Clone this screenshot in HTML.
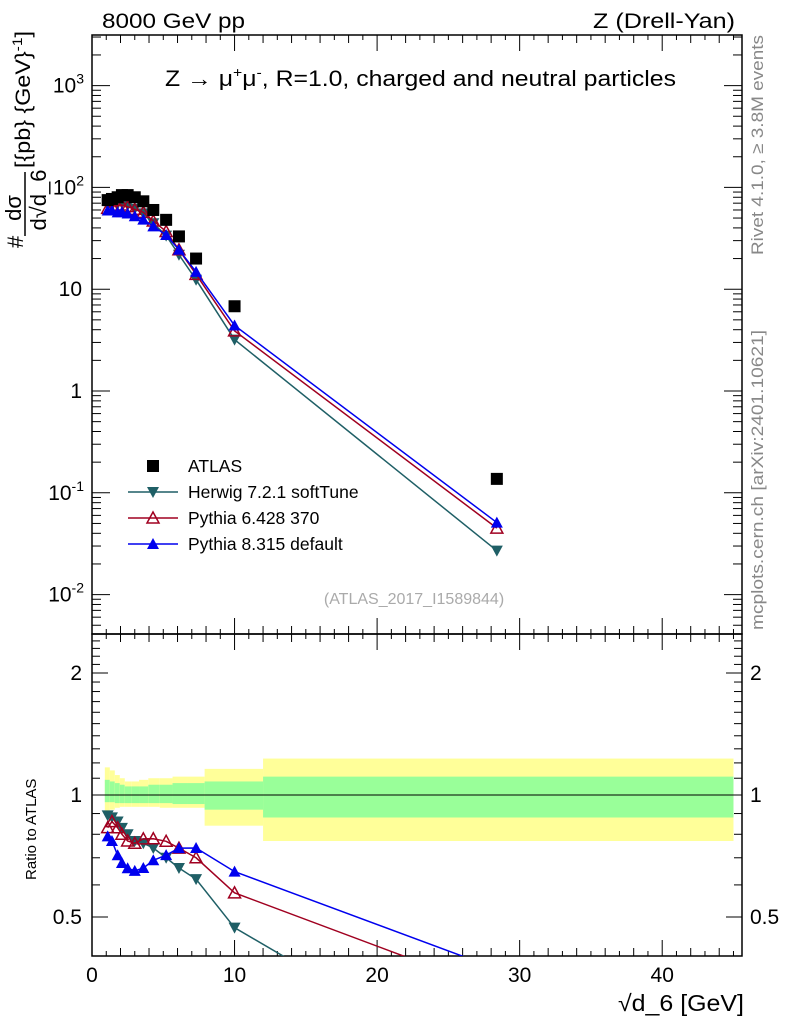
<!DOCTYPE html>
<html><head><meta charset="utf-8"><style>
html,body{margin:0;padding:0;background:#fff;overflow:hidden;width:786px;height:1024px}
svg{display:block;position:absolute;left:0;top:0}
svg text{font-family:"Liberation Sans",sans-serif}
</style></head><body>
<svg id="c" width="786" height="1024" viewBox="0 0 786 1024" overflow="hidden" xmlns="http://www.w3.org/2000/svg">
<rect width="786" height="1024" fill="#fff"/>
<g id="bands"></g>
<g id="axes"></g>
<g id="series"></g>
<text x="102" y="28" font-size="21" textLength="143" lengthAdjust="spacingAndGlyphs">8000 GeV pp</text>
<text x="593" y="28" font-size="21" textLength="142" lengthAdjust="spacingAndGlyphs">Z (Drell-Yan)</text>
<text x="165" y="86" font-size="22" textLength="511" lengthAdjust="spacingAndGlyphs">Z → μ<tspan font-size="14" dy="-9">+</tspan><tspan dy="9">μ</tspan><tspan font-size="14" dy="-9">-</tspan><tspan dy="9">, R=1.0, charged and neutral particles</tspan></text>
<text x="414" y="604" font-size="16" fill="#aaa" text-anchor="middle">(ATLAS_2017_I1589844)</text>
<text transform="translate(763,255) rotate(-90)" font-size="17" textLength="220" lengthAdjust="spacingAndGlyphs" fill="#888">Rivet 4.1.0, ≥ 3.8M events</text>
<text transform="translate(763,630) rotate(-90)" font-size="17" textLength="300" lengthAdjust="spacingAndGlyphs" fill="#888">mcplots.cern.ch [arXiv:2401.10621]</text>
<g>
<text transform="translate(23,248) rotate(-90)" font-size="22">#</text>
<text transform="translate(21,208) rotate(-90)" font-size="22" text-anchor="middle">dσ</text>
<line x1="25" y1="236" x2="25" y2="172" stroke="#000" stroke-width="1.5"/>
<text transform="translate(46,200) rotate(-90)" font-size="22" text-anchor="middle">d√d_6</text>
<text transform="translate(30,168) rotate(-90)" font-size="21" textLength="137" lengthAdjust="spacingAndGlyphs">[{pb} {GeV}<tspan font-size="14" dy="-8">-1</tspan><tspan dy="8">]</tspan></text>
</g>
<text transform="translate(36,880) rotate(-90)" font-size="15">Ratio to ATLAS</text>
<text x="744" y="1011" font-size="23" text-anchor="end" textLength="126" lengthAdjust="spacingAndGlyphs">√d_6 [GeV]</text>
<g id="legend"></g>
</svg>
<script>
const xVals=[1.1,1.4,1.8,2.1,2.5,3.0,3.6,4.3,5.2,6.1,7.3,10.0,28.4];
const binEdges=[0.9,1.25,1.6,1.95,2.3,2.75,3.3,3.95,4.75,5.65,6.7,7.9,12,45];
const atlas=[75,77,80,84,84,80,73,60,48,33,20,6.8,0.137];
const herwig=[66.8,67.8,68.8,69.7,67.2,61.6,55.5,44.4,33.6,21.8,12.4,3.2,0.027];
const py6=[62.3,66.2,66.4,67.2,64.7,60.8,56.9,46.8,36.9,24.4,14.0,3.9,0.045];
const py8=[59.3,59.3,56.8,57.1,55.4,52,48.2,41.4,34.1,24.4,14.8,4.4,0.051];
const greenUp=[1.09,1.08,1.07,1.06,1.05,1.05,1.05,1.06,1.06,1.07,1.07,1.08,1.11];
const greenDown=[0.96,0.96,0.955,0.955,0.955,0.955,0.955,0.955,0.955,0.95,0.95,0.92,0.88];
const yellowUp=[1.17,1.15,1.12,1.1,1.08,1.08,1.09,1.1,1.1,1.11,1.11,1.16,1.23];
const yellowDown=[0.91,0.92,0.93,0.935,0.935,0.935,0.935,0.935,0.93,0.93,0.93,0.84,0.77];
const xTicks=[0,10,20,30,40];
const yTicks=[-2,-1,0,1,2,3];
const yTickLabels=["10^-2","10^-1","1","10","10^2","10^3"];
const rTicks=[0.5,1,2];

const NS="http://www.w3.org/2000/svg";
const L=92,R=742,T=35,MB=634,RB=956;
const X=v=>L+(v-0)*14.255;
const Y=v=>391-Math.log10(v)*101.8;
const RY=v=>795-Math.log2(v)*122;
function el(tag,attrs,parent){const e=document.createElementNS(NS,tag);for(const k in attrs)e.setAttribute(k,attrs[k]);(parent||document.getElementById('c')).appendChild(e);return e;}
const bands=document.getElementById('bands'),axes=document.getElementById('axes'),ser=document.getElementById('series');

for(let i=0;i<atlas.length;i++){
 const x1=X(binEdges[i]),x2=X(binEdges[i+1]);
 let r=el('rect',{x:x1,y:RY(yellowUp[i]),width:x2-x1,height:RY(yellowDown[i])-RY(yellowUp[i]),fill:'#ffff99'},bands);
 
 
 let g=el('rect',{x:x1,y:RY(greenUp[i]),width:x2-x1,height:RY(greenDown[i])-RY(greenUp[i]),fill:'#99ff99'},bands);
 
 
}
el('line',{x1:L,x2:R,y1:RY(1),y2:RY(1),stroke:'#000','stroke-width':1},bands);

el('rect',{x:L,y:T,width:R-L,height:MB-T,fill:'none',stroke:'#000','stroke-width':1.5},axes);
el('rect',{x:L,y:MB,width:R-L,height:RB-MB,fill:'none',stroke:'#000','stroke-width':1.5},axes);
for(let v=0;v<=45;v++){
 const len=v%10==0?16:(v%2==0?8:5);
 [[MB,-1],[RB,-1],[T,1],[MB,1]].forEach(([yy,d])=>el('line',{x1:X(v),x2:X(v),y1:yy,y2:yy+d*len,stroke:'#000','stroke-width':1},axes));
}
xTicks.forEach(v=>{let t=el('text',{x:X(v),y:982,'font-size':21,'text-anchor':'middle'},axes);t.textContent=v;
 });
for(let d=-3;d<=3;d++){for(let m=1;m<10;m++){const v=m*Math.pow(10,d);const y=Y(v);if(y<T||y>MB)continue;
 const len=m==1?18:9;el('line',{x1:L,x2:L+len,y1:y,y2:y,stroke:'#000'},axes);el('line',{x1:R,x2:R-len,y1:y,y2:y,stroke:'#000'},axes);}}
yTicks.forEach((p,i)=>{const y=Y(Math.pow(10,p))+7;const lab=yTickLabels[i];
 let t=el('text',{x:82,y:y,'font-size':21,'text-anchor':'end'},axes);
 
 if(lab.includes('^')){const [b,e]=lab.split('^');t.textContent=b;const s=el('tspan',{'font-size':14,dy:-9},t);s.textContent=e;t.setAttribute('x',84);}
 else t.textContent=lab;});
for(let v=0.4;v<=2.5;v+=0.1){const y=RY(v);if(y<MB||y>RB)continue;const maj=[0.5,1,2].some(a=>Math.abs(a-v)<1e-6);const len=maj?16:8;
 el('line',{x1:L,x2:L+len,y1:y,y2:y,stroke:'#000'},axes);el('line',{x1:R,x2:R-len,y1:y,y2:y,stroke:'#000'},axes);}
rTicks.forEach(v=>{[[82,'end'],[750,'start']].forEach(([x,a])=>{let t=el('text',{x:x,y:RY(v)+7,'font-size':21,'text-anchor':a},axes);t.textContent=v;
 });});

function marker(type,cx,cy,col,g){
 if(type=='sq')return el('rect',{x:cx-6,y:cy-6,width:12,height:12,fill:col},g);
 if(type=='down')return el('polygon',{points:`${cx-6},${cy-5} ${cx+6},${cy-5} ${cx},${cy+6}`,fill:col},g);
 if(type=='upo')return el('polygon',{points:`${cx-6},${cy+5} ${cx+6},${cy+5} ${cx},${cy-6}`,fill:'none',stroke:col,'stroke-width':1.5},g);
 return el('polygon',{points:`${cx-6},${cy+5} ${cx+6},${cy+5} ${cx},${cy-6}`,fill:col},g);
}
const series=[[herwig,'#1f5f66','down','herwig'],[py6,'#a00020','upo','pythia6'],[py8,'#0000ee','up','pythia8']];
const clip=el('clipPath',{id:'rc'});el('rect',{x:L,y:MB,width:R-L,height:RB-MB},clip);
series.forEach(([vals,col,m,nm])=>{
 const g=el('g',{},ser);
 el('polyline',{points:xVals.map((x,i)=>X(x)+','+Y(vals[i])).join(' '),fill:'none',stroke:col,'stroke-width':1.5},g);
 xVals.forEach((x,i)=>marker(m,X(x),Y(vals[i]),col,g));
 const gr=el('g',{'clip-path':'url(#rc)'},ser);
 el('polyline',{points:xVals.map((x,i)=>X(x)+','+RY(vals[i]/atlas[i])).join(' '),fill:'none',stroke:col,'stroke-width':1.5},gr);
 xVals.forEach((x,i)=>marker(m,X(x),RY(vals[i]/atlas[i]),col,gr));
});
const ga=el('g',{},ser);
xVals.forEach((x,i)=>marker('sq',X(x),Y(atlas[i]),'#000',ga));

const lg=document.getElementById('legend');
const leg=[['ATLAS','#000','sq'],['Herwig 7.2.1 softTune','#1f5f66','down'],['Pythia 6.428 370','#a00020','upo'],['Pythia 8.315 default','#0000ee','up']];
leg.forEach(([n,c,m],i)=>{const y=466+i*26;
 const g=el('g',{},lg);
 if(i>0)el('line',{x1:128,x2:178,y1:y,y2:y,stroke:c,'stroke-width':1.5},g);
 marker(m,153,y,c,g);const t=el('text',{x:188,y:y+6,'font-size':17.5},g);t.textContent=n;});
</script>
</body></html>
